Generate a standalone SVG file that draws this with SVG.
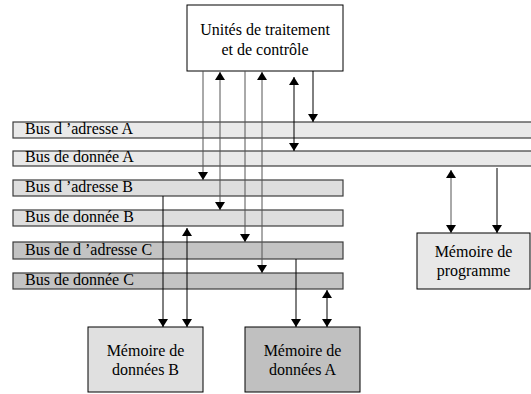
<svg xmlns="http://www.w3.org/2000/svg" width="531" height="394" viewBox="0 0 531 394" font-family="'Liberation Serif', 'Times New Roman', serif">
  <style>
    text { font-family: "Liberation Serif", "Times New Roman", serif; font-size: 16px; fill: #000; }
    .mid { text-anchor: middle; }
    .box { stroke: #000; stroke-width: 1; }
    .bus { stroke: #3c3c3c; stroke-width: 1.2; }
    .bus-a { fill: #e9e9e9; }
    .bus-b { fill: #dedede; }
    .bus-c { fill: #c3c3c3; }
    .wire { fill: none; stroke: #000; stroke-width: 1; }
    .wire.grey { stroke: #555; }
  </style>
  <defs>
    <marker id="arrow" viewBox="0 0 8 10" refX="8" refY="5" markerWidth="8" markerHeight="10" markerUnits="userSpaceOnUse" orient="auto-start-reverse">
      <path d="M0,0 L8,5 L0,10 z" fill="#000"/>
    </marker>
  </defs>

  <rect width="531" height="394" fill="#fff"/>

  <!-- processing unit -->
  <g id="unites">
    <rect class="box" x="187" y="5" width="156" height="66" fill="#fff"/>
    <text class="mid" x="265" y="35">Unités de traitement</text>
    <text class="mid" x="265" y="55">et de contrôle</text>
  </g>

  <!-- buses -->
  <g id="bus-adresse-a">
    <rect class="bus bus-a" x="13" y="122" width="530" height="16"/>
    <text x="25" y="134">Bus d ’adresse A</text>
  </g>
  <g id="bus-donnee-a">
    <rect class="bus bus-a" x="13" y="151" width="530" height="15"/>
    <text x="25" y="162">Bus de donnée A</text>
  </g>
  <g id="bus-adresse-b">
    <rect class="bus bus-b" x="13" y="180" width="330" height="16"/>
    <text x="25" y="192">Bus d ’adresse B</text>
  </g>
  <g id="bus-donnee-b">
    <rect class="bus bus-b" x="13" y="210" width="330" height="16"/>
    <text x="25" y="222">Bus de donnée B</text>
  </g>
  <g id="bus-adresse-c">
    <rect class="bus bus-c" x="13" y="242" width="330" height="17"/>
    <text x="25" y="255">Bus de d ’adresse C</text>
  </g>
  <g id="bus-donnee-c">
    <rect class="bus bus-c" x="13" y="273" width="330" height="16"/>
    <text x="25" y="285">Bus de donnée C</text>
  </g>

  <!-- memories -->
  <g id="memoire-programme">
    <rect class="box" x="417" y="233" width="113" height="56" fill="#e8e8e8"/>
    <text class="mid" x="473.5" y="257">Mémoire de</text>
    <text class="mid" x="473.5" y="276">programme</text>
  </g>
  <g id="memoire-donnees-b">
    <rect class="box" x="88" y="327" width="115" height="65" fill="#e0e0e0"/>
    <text class="mid" x="145.5" y="356">Mémoire de</text>
    <text class="mid" x="145.5" y="375">données B</text>
  </g>
  <g id="memoire-donnees-a">
    <rect class="box" x="245" y="327" width="115" height="65" fill="#c0c0c0"/>
    <text class="mid" x="302.5" y="356">Mémoire de</text>
    <text class="mid" x="302.5" y="375">données A</text>
  </g>

  <!-- connectors -->
  <g id="connectors">
    <line class="wire grey" x1="203" y1="71" x2="203" y2="180" marker-end="url(#arrow)"/>
    <line class="wire grey" x1="220" y1="72" x2="220" y2="210" marker-start="url(#arrow)" marker-end="url(#arrow)"/>
    <line class="wire grey" x1="245" y1="71" x2="245" y2="242" marker-end="url(#arrow)"/>
    <line class="wire grey" x1="262" y1="72" x2="262" y2="273" marker-start="url(#arrow)" marker-end="url(#arrow)"/>
    <line class="wire" x1="294" y1="77" x2="294" y2="151" marker-start="url(#arrow)" marker-end="url(#arrow)"/>
    <line class="wire" x1="313" y1="71" x2="313" y2="122" marker-end="url(#arrow)"/>

    <line class="wire grey" x1="451" y1="170" x2="451" y2="233" marker-start="url(#arrow)" marker-end="url(#arrow)"/>
    <line class="wire" x1="497" y1="168" x2="497" y2="233" marker-end="url(#arrow)"/>

    <line class="wire" x1="163" y1="196" x2="163" y2="327" marker-end="url(#arrow)"/>
    <line class="wire" x1="187" y1="228" x2="187" y2="327" marker-start="url(#arrow)" marker-end="url(#arrow)"/>
    <line class="wire" x1="296" y1="259" x2="296" y2="327" marker-end="url(#arrow)"/>
    <line class="wire" x1="327" y1="290" x2="327" y2="327" marker-start="url(#arrow)" marker-end="url(#arrow)"/>
  </g>
</svg>
